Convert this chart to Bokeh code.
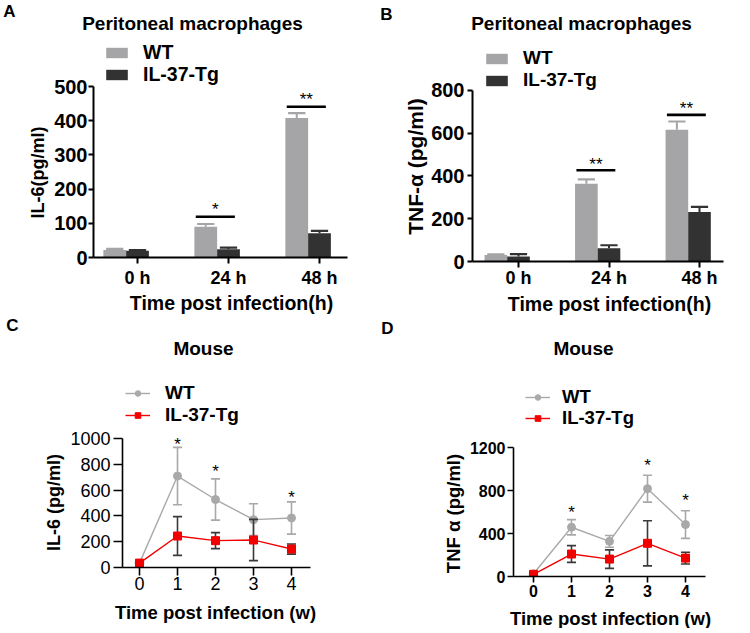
import numpy as np
from bokeh.plotting import figure
from bokeh.models import (Label, FixedTicker, Range1d, ColumnDataSource,
                          Legend, LegendItem)
from bokeh.layouts import row, column
from bokeh.embed import file_html
from bokeh.resources import INLINE
from bokeh.core.properties import value

FONT = "Liberation Sans"

# ---------------- data ----------------
hours = ["0 h", "24 h", "48 h"]
il6_wt = [22, 90, 408]
il6_wt_sem = [3, 8, 14]
il6_tg = [20, 24, 71]
il6_tg_sem = [2, 5, 7]
il6_sig_idx = [1, 2]
il6_sig_y = [119, 441]
il6_sig_txt = ["*", "**"]
il6_star_y = [152, 474]

tnf_wt = [30, 363, 615]
tnf_wt_sem = [3, 21, 39]
tnf_tg = [23, 62, 231]
tnf_tg_sem = [11, 14, 24]
tnf_sig_idx = [1, 2]
tnf_sig_y = [426, 685]
tnf_sig_txt = ["**", "**"]
tnf_star_y = [473, 733]

weeks = [0, 1, 2, 3, 4]
m_il6_wt = [34, 709, 527, 371, 384]
m_il6_wt_sd = [8, 222, 160, 123, 125]
m_il6_tg = [34, 244, 208, 213, 143]
m_il6_tg_sd = [8, 150, 62, 160, 39]
m_il6_star_x = [1, 2, 4]
m_il6_star_y = [987, 779, 577]

m_tnf_wt = [25, 458, 327, 817, 483]
m_tnf_wt_sd = [8, 71, 55, 125, 128]
m_tnf_tg = [20, 209, 162, 309, 171]
m_tnf_tg_sd = [8, 78, 86, 210, 55]
m_tnf_star_x = [1, 3, 4]
m_tnf_star_y = [630, 1072, 745]

WT_BAR = "#a5a5a8"
TG_BAR = "#323232"
WT_LINE = "#a9a9a9"
TG_LINE = "#f20000"
TG_ERR = "#3a3a3a"


# ---------------- geometry helpers ----------------
class Geo:
    def __init__(s, fx, fy, w, h, left, right, bottom, tick0, ppx, ppy):
        s.fx, s.fy, s.w, s.h = fx, fy, w, h
        s.left, s.right, s.bottom = left, right, bottom
        s.tick0, s.ppx, s.ppy = tick0, ppx, ppy

    def x(s, px):
        return (px - s.tick0) / s.ppx

    def y(s, py):
        return (s.bottom - py) / s.ppy

    def fig(s):
        p = figure(width=s.w, height=s.h,
                   x_range=Range1d(s.x(s.left), s.x(s.right)),
                   y_range=Range1d(0, s.y(s.fy)),
                   output_backend="svg", toolbar_location=None,
                   min_border_left=s.left - s.fx,
                   min_border_right=s.fx + s.w - s.right,
                   min_border_top=0,
                   min_border_bottom=s.fy + s.h - s.bottom,
                   frame_align=False)
        p.outline_line_color = None
        p.xgrid.visible = False
        p.ygrid.visible = False
        p.axis.minor_tick_line_color = None
        p.axis.major_tick_in = 0
        p.axis.axis_line_color = "black"
        p.axis.major_tick_line_color = "black"
        p.axis.major_label_text_font = FONT
        p.axis.major_label_text_color = "black"
        return p


def strip(x0, y0, w, h):
    p = figure(width=w, height=h, x_range=Range1d(x0, x0 + w),
               y_range=Range1d(y0 + h, y0), x_axis_type=None, y_axis_type=None,
               output_backend="svg", toolbar_location=None, min_border=0,
               frame_align=False)
    p.outline_line_color = None
    p.xgrid.visible = False
    p.ygrid.visible = False
    return p


def txt(p, text, x, y, size, bold=True, angle=0.0):
    p.add_layout(Label(x=x, y=y, text=text, text_font=FONT,
                       text_font_size=f"{size}px",
                       text_font_style="bold" if bold else "normal",
                       text_align="center", text_baseline="middle",
                       angle=angle, text_color="black"))


def style_axes(p, yticks, ybound, xticks, xlabels, ytsize, xtsize, bold,
               lw, ytick_out, ystand, xtick_out, xstand):
    p.yaxis.ticker = FixedTicker(ticks=yticks)
    p.yaxis.bounds = (0, ybound)
    p.xaxis.ticker = FixedTicker(ticks=xticks)
    p.xaxis.major_label_overrides = {t: l for t, l in zip(xticks, xlabels)}
    p.axis.axis_line_width = lw
    p.axis.major_tick_line_width = lw
    p.yaxis.major_tick_out = ytick_out
    p.yaxis.major_label_standoff = ystand
    p.xaxis.major_tick_out = xtick_out
    p.xaxis.major_label_standoff = xstand
    p.yaxis.major_label_text_font_size = f"{ytsize}px"
    p.xaxis.major_label_text_font_size = f"{xtsize}px"
    p.axis.major_label_text_font_style = "bold" if bold else "normal"


def add_legend(p, label, renderers, loc, gw, gh, standoff, size):
    p.add_layout(Legend(items=[LegendItem(label=label, renderers=renderers)],
                        location=loc, glyph_width=gw, glyph_height=gh,
                        label_standoff=standoff, padding=0, margin=0,
                        border_line_color=None, background_fill_alpha=0,
                        label_text_font=FONT, label_text_font_style="bold",
                        label_text_color="black",
                        label_text_font_size=f"{size}px"))


def bar_panel(g, wt, wt_e, tg, tg_e, sig_idx, sig_y, sig_txt, star_y,
              yticks, ybound, leg_x, leg_y, legend_size, ystand, xstand):
    p = g.fig()
    xs = np.arange(len(hours))
    bw = 0.25
    cap = 0.19
    wt_hi = np.array(wt) + np.array(wt_e)
    tg_hi = np.array(tg) + np.array(tg_e)
    src = ColumnDataSource(dict(
        xw=xs - 0.25, xt=xs + 0.0, wt=wt, tg=tg, wt_hi=wt_hi, tg_hi=tg_hi,
        xw0=xs - 0.25 - cap / 2, xw1=xs - 0.25 + cap / 2,
        xt0=xs - cap / 2, xt1=xs + cap / 2))
    p.segment(x0="xw", y0="wt", x1="xw", y1="wt_hi", source=src,
              line_color=WT_BAR, line_width=2)
    p.segment(x0="xt", y0="tg", x1="xt", y1="tg_hi", source=src,
              line_color=TG_BAR, line_width=2)
    p.segment(x0="xw0", y0="wt_hi", x1="xw1", y1="wt_hi", source=src,
              line_color=WT_BAR, line_width=2.2)
    p.segment(x0="xt0", y0="tg_hi", x1="xt1", y1="tg_hi", source=src,
              line_color=TG_BAR, line_width=2.2)
    rw = p.vbar(x="xw", top="wt", bottom=0, width=bw, source=src,
                fill_color=WT_BAR, line_color=None)
    rt = p.vbar(x="xt", top="tg", bottom=0, width=bw, source=src,
                fill_color=TG_BAR, line_color=None)
    si = np.array(sig_idx, dtype=float)
    ssrc = ColumnDataSource(dict(x0=si - 0.36, x1=si + 0.07, y=sig_y,
                                 xc=si - 0.145, ys=star_y, t=sig_txt))
    p.segment(x0="x0", y0="y", x1="x1", y1="y", source=ssrc,
              line_color="black", line_width=2.6)
    p.text(x="xc", y="ys", text="t", source=ssrc, text_font=value(FONT),
           text_font_size="17px", text_align="center", text_baseline="middle",
           y_offset=4, text_color="black")
    style_axes(p, yticks, ybound, list(range(len(hours))), hours, 20, 18, True,
               2, 5, ystand, 6, xstand)
    add_legend(p, "WT", [rw], (leg_x, leg_y[0]), 27, 13, 13, legend_size)
    add_legend(p, "IL-37-Tg", [rt], (leg_x, leg_y[1]), 27, 13, 13, legend_size)
    return p


def line_panel(g, wt, wt_sd, tg, tg_sd, star_x, star_y, yticks, ybound,
               tbold, tsize, lw, ytick_out, ystand, xtick_out, xstand,
               leg_x, leg_y, legend_size, standoff):
    p = g.fig()
    x = np.array(weeks, dtype=float)
    cap = 0.24
    wt = np.array(wt); wt_sd = np.array(wt_sd)
    tg = np.array(tg); tg_sd = np.array(tg_sd)
    sw = ColumnDataSource(dict(x=x, y=wt, lo=wt - wt_sd, hi=wt + wt_sd,
                               c0=x - cap / 2, c1=x + cap / 2))
    st = ColumnDataSource(dict(x=x, y=tg, lo=tg - tg_sd, hi=tg + tg_sd,
                               c0=x - cap / 2, c1=x + cap / 2))
    lw_ = p.line(x="x", y="y", source=sw, line_color=WT_LINE, line_width=1.4)
    for a, b, c, d in (("x", "lo", "x", "hi"), ("c0", "hi", "c1", "hi"), ("c0", "lo", "c1", "lo")):
        p.segment(x0=a, y0=b, x1=c, y1=d, source=sw, line_color=WT_LINE, line_width=1.6)
    mw = p.scatter(x="x", y="y", source=sw, marker="circle", size=8,
                   fill_color=WT_LINE, line_color=WT_LINE)
    lt = p.line(x="x", y="y", source=st, line_color=TG_LINE, line_width=1.4)
    for a, b, c, d in (("x", "lo", "x", "hi"), ("c0", "hi", "c1", "hi"), ("c0", "lo", "c1", "lo")):
        p.segment(x0=a, y0=b, x1=c, y1=d, source=st, line_color=TG_ERR, line_width=1.6)
    mt = p.scatter(x="x", y="y", source=st, marker="square", size=8,
                   fill_color=TG_LINE, line_color=TG_LINE)
    ss = ColumnDataSource(dict(x=star_x, y=star_y, t=["*"] * len(star_x)))
    p.text(x="x", y="y", text="t", source=ss, text_font=value(FONT),
           text_font_size="17px", text_align="center", text_baseline="middle",
           y_offset=4, text_color="black")
    style_axes(p, yticks, ybound, weeks, [str(w) for w in weeks], tsize, tsize,
               tbold, lw, ytick_out, ystand, xtick_out, xstand)
    add_legend(p, "WT", [lw_, mw], (leg_x, leg_y[0]), 25, 14, standoff, legend_size)
    add_legend(p, "IL-37-Tg", [lt, mt], (leg_x, leg_y[1]), 25, 14, standoff, legend_size)
    return p


W = 748
# ---------------- top strip ----------------
top = strip(0, 0, W, 40)
txt(top, "A", 9, 11, 17)
txt(top, "Peritoneal macrophages", 192, 23, 19)
txt(top, "B", 386, 14, 17)
txt(top, "Peritoneal macrophages", 581, 23, 19)

# ---------------- panel A ----------------
sA = strip(0, 40, 50, 250)
txt(sA, "IL-6(pg/ml)", 37, 172, 18, angle=np.pi / 2)
gA = Geo(50, 40, 328, 250, 93, 347, 257, 137, 91, 171 / 500)
pA = bar_panel(gA, il6_wt, il6_wt_sem, il6_tg, il6_tg_sem, il6_sig_idx,
               il6_sig_y, il6_sig_txt, il6_star_y, [0, 100, 200, 300, 400, 500],
               500, 10, (193, 171), 19.5, 1, 4)

# ---------------- panel B ----------------
sB = strip(378, 40, 50, 250)
txt(sB, "TNF-α (pg/ml)", 415, 166, 21, angle=np.pi / 2)
gB = Geo(428, 40, 320, 250, 472, 723, 262, 518, 90.5, 172 / 800)
pB = bar_panel(gB, tnf_wt, tnf_wt_sem, tnf_tg, tnf_tg_sem, tnf_sig_idx,
               tnf_sig_y, tnf_sig_txt, tnf_star_y, [0, 200, 400, 600, 800],
               800, 11, (192, 170), 19, 3, 0)

# ---------------- middle strip ----------------
mid = strip(0, 290, W, 75)
txt(mid, "Time post infection(h)", 231, 302, 19.5)
txt(mid, "Time post infection(h)", 609, 303, 19.5)
txt(mid, "C", 12, 325, 17)
txt(mid, "Mouse", 203, 348, 19)
txt(mid, "D", 387, 328, 17)
txt(mid, "Mouse", 583, 348, 19)

# ---------------- panel C ----------------
sC = strip(0, 365, 66, 238)
txt(sC, "IL-6 (pg/ml)", 53, 502, 18, angle=np.pi / 2)
gC = Geo(66, 365, 312, 238, 122, 310, 567, 139, 38, 129 / 1000)
pC = line_panel(gC, m_il6_wt, m_il6_wt_sd, m_il6_tg, m_il6_tg_sd,
                m_il6_star_x, m_il6_star_y, [0, 200, 400, 600, 800, 1000], 1000,
                False, 18, 1.6, 9, 3, 8, 1, 3, (163, 141), 19, 15)

# ---------------- panel D ----------------
sD = strip(378, 365, 88, 238)
txt(sD, "TNF α (pg/ml)", 453, 513, 18.5, angle=np.pi / 2)
gD = Geo(466, 365, 282, 238, 513, 705, 576, 533, 38, 129 / 1200)
pD = line_panel(gD, m_tnf_wt, m_tnf_wt_sd, m_tnf_tg, m_tnf_tg_sd,
                m_tnf_star_x, m_tnf_star_y, [0, 400, 800, 1200], 1200,
                True, 16, 1.6, 6, 2, 6, 2, 12, (168, 147), 18.5, 12)

# ---------------- bottom strip ----------------
foot = strip(0, 603, W, 25)
txt(foot, "Time post infection (w)", 215, 612, 18.5)
txt(foot, "Time post infection (w)", 610, 618, 18.5)

layout = column(top, row(sA, pA, sB, pB), mid, row(sC, pC, sD, pD), foot)
open("out.html", "w").write(file_html(layout, INLINE))
